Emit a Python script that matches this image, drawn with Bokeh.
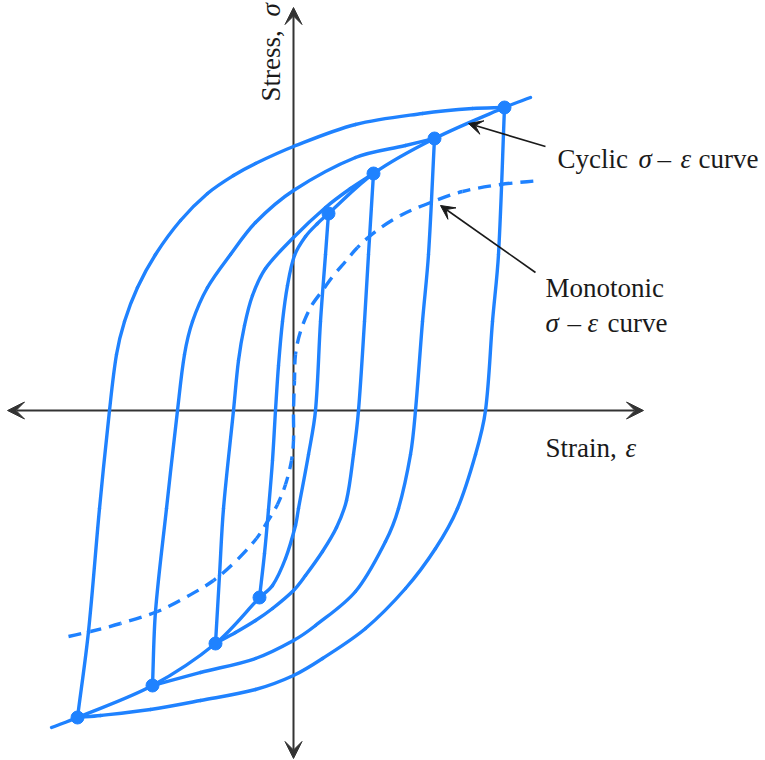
import math

from bokeh.plotting import figure
from bokeh.models import Range1d, Arrow, VeeHead
from bokeh.core.properties import value
from bokeh.embed import file_html
from bokeh.resources import INLINE

BLUE = "#1f82ff"
INK = "#1a1a1a"
AXIS = "#333333"
FONT = "Liberation Serif"
FSIZE = "27px"
LW = 3.4

# Strain / stress in arbitrary units, origin at the axis crossing.
# Each hysteresis loop has an ascending branch (compressive tip -> tensile tip)
# and a descending branch (tensile tip -> compressive tip).

loop1_up_strain = [-34, -29, -25, -21, -18, -15, -11, -6, 1, 12, 24, 35]
loop1_up_stress = [-187, -143, -99, -50, 0, 45, 89, 125, 155, 174, 187, 197]
loop1_down_strain = [35, 32, 27, 22, 15, 5, 2, -8, -21, -34]
loop1_down_stress = [197, 156, 89, 0, -44, -98, -115, -148, -175, -187]

loop2_up_strain = [-78, -74, -70, -60, -55, -49, -41, -28, 0, 32, 57, 80]
loop2_up_stress = [-233, -165, -98, 0, 50, 85, 115, 142, 173, 203, 222, 237]
loop2_down_strain = [80, 75, 71, 65, 60, 53, 43, 29, 12, 0, -21, -38, -58, -78]
loop2_down_stress = [237, 156, 89, 0, -44, -90, -117, -141, -165, -180, -198, -210, -222, -233]

loop3_up_strain = [-141, -138, -127, -116, -109, -101, -86, -63, -38, 0, 62, 112, 141]
loop3_up_stress = [-275, -201, -98, 0, 56, 89, 123, 156, 188, 220, 253, 265, 272]
loop3_down_strain = [141, 135, 129, 122, 117, 105, 92, 62, 22, 0, -38, -93, -141]
loop3_down_stress = [272, 156, 89, 0, -44, -98, -131, -181, -215, -230, -248, -262, -275]

loop4_up_strain = [-216, -205, -194, -184, -177, -169, -156, -138, -113, -86, -60, -38, 0, 62, 129, 179, 211]
loop4_up_stress = [-307, -221, -98, 0, 56, 89, 123, 156, 190, 217, 235, 247, 264, 286, 297, 302, 303]
loop4_down_strain = [211, 205, 199, 192, 182, 164, 142, 112, 72, 29, 0, -38, -93, -143, -193, -216]
loop4_down_stress = [303, 156, 89, 0, -44, -98, -138, -178, -218, -248, -265, -279, -290, -299, -305, -307]

# Loop tips (reversal points)
tip_strain = [-216, -141, -78, -34, 35, 80, 141, 211]
tip_stress = [-307, -275, -233, -187, 197, 237, 272, 303]

# Cyclic stress-strain curve through the tips, extended past the largest loop
cyclic_low_strain = [-242, -216, -141, -78, -34]
cyclic_low_stress = [-317, -307, -275, -233, -187]
cyclic_high_strain = [35, 80, 141, 211, 237]
cyclic_high_stress = [197, 237, 272, 303, 313]

# Monotonic stress-strain curve
mono_strain = [-225, -203, -173, -136, -108, -80, -57, -37, -26, -16, -8, -2, 0,
               0, 1, 2, 7, 17, 29, 40, 52, 64, 82, 107, 137, 169, 207, 247]
mono_stress = [-226, -221, -213, -201, -187, -170, -150, -128, -111, -94, -74, -50, -30,
               0, 30, 56, 79, 103, 120, 135, 149, 163, 179, 195, 208, 219, 226, 230]

p = figure(width=765, height=760, output_backend="svg", toolbar_location=None,
           x_axis_type=None, y_axis_type=None, min_border=0,
           x_range=Range1d(-293, 472), y_range=Range1d(-350, 410))
p.grid.visible = False
p.outline_line_color = None
p.background_fill_color = "white"
p.border_fill_color = "white"


def bezier_segments(xs, ys):
    """Cubic Bezier pieces of a chord-length Hermite spline through the points."""
    pts = [(x, y) for x, y in zip(xs, ys)]
    # drop repeated points
    clean = [pts[0]]
    for q in pts[1:]:
        if q != clean[-1]:
            clean.append(q)
    pts = clean
    n = len(pts)
    d = [math.dist(pts[i], pts[i + 1]) for i in range(n - 1)]
    tang = []
    for i in range(n):
        if i == 0:
            tx, ty = (pts[1][0] - pts[0][0]) / d[0], (pts[1][1] - pts[0][1]) / d[0]
        elif i == n - 1:
            tx, ty = (pts[i][0] - pts[i - 1][0]) / d[i - 1], (pts[i][1] - pts[i - 1][1]) / d[i - 1]
        else:
            s = d[i - 1] + d[i]
            tx, ty = (pts[i + 1][0] - pts[i - 1][0]) / s, (pts[i + 1][1] - pts[i - 1][1]) / s
        tang.append((tx, ty))
    segs = []
    for i in range(n - 1):
        h = d[i] / 3.0
        segs.append(dict(
            x0=pts[i][0], y0=pts[i][1], x1=pts[i + 1][0], y1=pts[i + 1][1],
            cx0=pts[i][0] + tang[i][0] * h, cy0=pts[i][1] + tang[i][1] * h,
            cx1=pts[i + 1][0] - tang[i + 1][0] * h, cy1=pts[i + 1][1] - tang[i + 1][1] * h,
        ))
    return segs


def smooth(xs, ys):
    segs = bezier_segments(xs, ys)
    cols = {k: [s[k] for s in segs] for k in segs[0]}
    p.bezier(**cols, line_color=BLUE, line_width=LW, line_cap="round", line_join="round")


def seg_length(s, steps=24):
    total, px, py = 0.0, s["x0"], s["y0"]
    for k in range(1, steps + 1):
        t = k / steps
        u = 1 - t
        qx = u**3 * s["x0"] + 3 * u * u * t * s["cx0"] + 3 * u * t * t * s["cx1"] + t**3 * s["x1"]
        qy = u**3 * s["y0"] + 3 * u * u * t * s["cy0"] + 3 * u * t * t * s["cy1"] + t**3 * s["y1"]
        total += math.hypot(qx - px, qy - py)
        px, py = qx, qy
    return total


def smooth_dashed(xs, ys, dash=(13, 8)):
    # one glyph per segment so the dash pattern can run on across segments
    period = sum(dash)
    run = 0.0
    for s in bezier_segments(xs, ys):
        p.bezier(**{k: [v] for k, v in s.items()}, line_color=BLUE, line_width=LW,
                 line_dash=f"{dash[0]} {dash[1]}", line_dash_offset=int(round(run % period)))
        run += seg_length(s)


# Coordinate axes with arrowheads at both ends
for xs, ys, xe, ye in [(-286, 0, 350, 0), (0, -348, 0, 403)]:
    p.add_layout(Arrow(x_start=xs, y_start=ys, x_end=xe, y_end=ye,
                       line_color=AXIS, line_width=2, level="underlay",
                       start=VeeHead(size=17, fill_color=AXIS, line_color=AXIS),
                       end=VeeHead(size=17, fill_color=AXIS, line_color=AXIS)))

loops = [
    (loop1_up_strain, loop1_up_stress, loop1_down_strain, loop1_down_stress),
    (loop2_up_strain, loop2_up_stress, loop2_down_strain, loop2_down_stress),
    (loop3_up_strain, loop3_up_stress, loop3_down_strain, loop3_down_stress),
    (loop4_up_strain, loop4_up_stress, loop4_down_strain, loop4_down_stress),
]
for ux, uy, dx, dy in loops:
    smooth(ux, uy)
    smooth(dx, dy)

smooth(cyclic_low_strain, cyclic_low_stress)
smooth(cyclic_high_strain, cyclic_high_stress)

smooth_dashed(mono_strain, mono_stress)

p.scatter(tip_strain, tip_stress, size=13, fill_color=BLUE, line_color=BLUE)

# Pointers to the two curves
for xs, ys, xe, ye in [(252, 264, 175, 287), (242, 138, 147, 205)]:
    p.add_layout(Arrow(x_start=xs, y_start=ys, x_end=xe, y_end=ye,
                       line_color=INK, line_width=1.6,
                       end=VeeHead(size=14, fill_color=INK, line_color=INK)))


def label(x, y, txt, italic=False, angle=0.0):
    p.text([x], [y], text=[txt], angle=angle,
           text_font=value(FONT), text_font_size=FSIZE,
           text_font_style="italic" if italic else "normal",
           text_color=INK, text_align="left", text_baseline="alphabetic")


# "Cyclic σ – ε curve"
label(264, 252, "Cyclic")
label(345, 252, "σ", italic=True)
label(364, 252, "–")
label(387, 252, "ε", italic=True)
label(405, 252, "curve")

# "Monotonic / σ – ε curve"
label(252, 123, "Monotonic")
label(252, 88, "σ", italic=True)
label(274, 88, "–")
label(294, 88, "ε", italic=True)
label(314, 88, "curve")

# Axis titles
label(252, -37, "Strain,")
label(332, -37, "ε", italic=True)
label(-23, 309, "Stress,", angle=math.pi / 2)
label(-23, 394, "σ", italic=True, angle=math.pi / 2)

open("out.html", "w").write(file_html(p, INLINE))
